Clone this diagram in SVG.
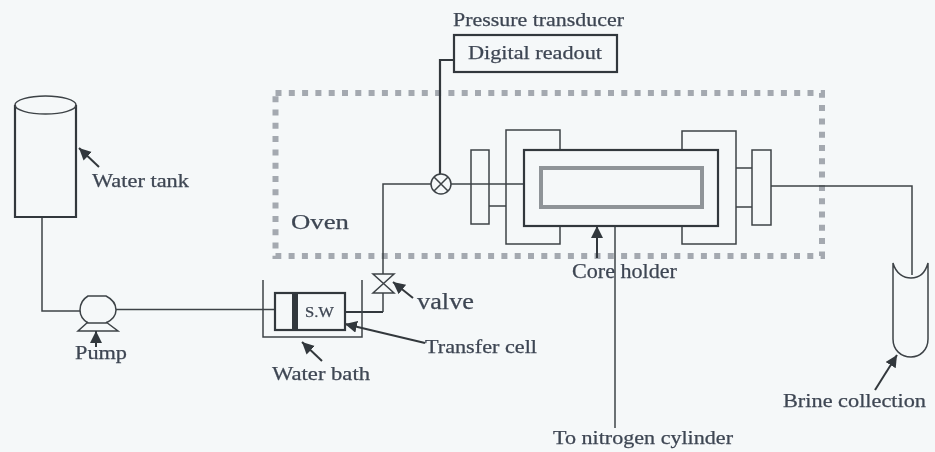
<svg xmlns="http://www.w3.org/2000/svg" width="935" height="452" viewBox="0 0 935 452">
<style>
.s{fill:none;stroke:#3d4347;stroke-width:1.5}
.b{fill:none;stroke:#33383c;stroke-width:2.2}
.t{font-family:"Liberation Serif","Times New Roman",serif;fill:#3e4653;font-size:18.500px;stroke:#3e4653;stroke-width:0.25}
.a{fill:none;stroke:#33383c;stroke-width:2;marker-end:url(#h)}
</style>
<defs>
<marker id="h" markerUnits="userSpaceOnUse" markerWidth="14" markerHeight="14" refX="12" refY="6" orient="auto"><path d="M0,0 L12,6 L0,12 Z" fill="#33383c"/></marker>
<filter id="f" x="-5%" y="-5%" width="110%" height="110%"><feGaussianBlur stdDeviation="0.5"/></filter>
</defs>
<rect width="935" height="452" fill="#f5f8f9"/>
<g filter="url(#f)">
<g id="oven">
<rect x="275.500" y="93" width="546.500" height="163" fill="none" stroke="#a4a9b0" stroke-width="6" stroke-dasharray="6 7.300"/>
<text class="t" x="291" y="229" textLength="58" lengthAdjust="spacingAndGlyphs" style="font-size:22px">Oven</text>
</g>
<g id="connectors">
<path class="s" d="M42,217 V311 H80"/>
<path class="s" d="M116,309.500 H275"/>
<path class="b" d="M345,312 H383"/>
<path class="s" d="M383,312 V293 M383,274 V184 H431"/>
<path class="b" d="M440,174 V60 H454"/>
<path class="s" d="M451,184 H524"/>
<path class="s" d="M771,186 H912 V275"/>
<path class="s" d="M615,226 V428"/>
<path class="s" d="M489,206 H506 M736,168 H752 M736,207 H752"/>
</g>
<g id="water-tank">
<path class="b" d="M15,105 V217 H76 V105"/>
<ellipse class="s" cx="45.500" cy="105" rx="30.500" ry="9"/>
<path class="a" d="M99,167 L79,148"/>
<text class="t" x="92" y="187" textLength="97" lengthAdjust="spacingAndGlyphs">Water tank</text>
</g>
<g id="pump">
<path class="s" d="M88,296 H106 C112,299 116,304 116,310 C116,316 112,320 106,323 H88 C83,320 80,316 80,310 C80,304 83,299 88,296 Z"/>
<path class="s" d="M88,322 L78,331 H118 L106,322"/>
<path class="a" d="M96,347 V331"/>
<text class="t" x="75" y="359" textLength="52" lengthAdjust="spacingAndGlyphs">Pump</text>
</g>
<g id="water-bath">
<path class="s" d="M263,280 V337 H362 V280"/>
<path class="a" d="M322,361 L302,342"/>
<text class="t" x="272" y="380" textLength="98" lengthAdjust="spacingAndGlyphs">Water bath</text>
</g>
<g id="transfer-cell">
<rect class="b" x="275" y="293" width="70" height="37"/>
<rect x="292" y="293" width="6" height="37" fill="#33383c"/>
<text class="t" x="305" y="317" textLength="29" lengthAdjust="spacingAndGlyphs" style="font-size:14px">S.W</text>
<path class="a" d="M425,343 L345,324"/>
<text class="t" x="425" y="353" textLength="112" lengthAdjust="spacingAndGlyphs">Transfer cell</text>
</g>
<g id="valve">
<path class="s" d="M373,274 H394 L373,293 H394 Z"/>
<path class="a" d="M413,298 L393,282"/>
<text class="t" x="417" y="309" textLength="57" lengthAdjust="spacingAndGlyphs" style="font-size:23px">valve</text>
</g>
<g id="pressure-transducer">
<circle class="s" cx="441" cy="184" r="10"/>
<path class="s" d="M434,177 L448,191 M448,177 L434,191"/>
<text class="t" x="453" y="26" textLength="171" lengthAdjust="spacingAndGlyphs">Pressure transducer</text>
</g>
<g id="digital-readout">
<rect class="b" x="454" y="35" width="163" height="37"/>
<text class="t" x="468" y="59" textLength="134" lengthAdjust="spacingAndGlyphs">Digital readout</text>
</g>
<g id="core-holder">
<rect class="s" x="471" y="150" width="18" height="74"/>
<rect class="s" x="752" y="150" width="19" height="75"/>
<path class="s" d="M560,150 V130 H506 V244 H560 V226"/>
<path class="s" d="M682,150 V131 H736 V244 H682 V226"/>
<rect class="b" x="524" y="150" width="194" height="76"/>
<rect x="541" y="168" width="161" height="39" fill="none" stroke="#8f9498" stroke-width="4"/>
<path class="a" d="M597,258 V226"/>
<text class="t" x="572" y="278" textLength="105" lengthAdjust="spacingAndGlyphs" style="font-size:20px">Core holder</text>
</g>
<g id="brine-collection">
<path class="s" d="M893,263 C896,274 904,278 911,278 C918,278 925,274 928,263 V339 C928,350 920,357 911,357 C901,357 893,350 893,339 Z"/>
<path class="a" d="M875,390 L897,355"/>
<text class="t" x="783" y="407" textLength="143" lengthAdjust="spacingAndGlyphs">Brine collection</text>
</g>
<g id="nitrogen-cylinder">
<text class="t" x="553" y="444" textLength="180" lengthAdjust="spacingAndGlyphs">To nitrogen cylinder</text>
</g>
</g>
</svg>
